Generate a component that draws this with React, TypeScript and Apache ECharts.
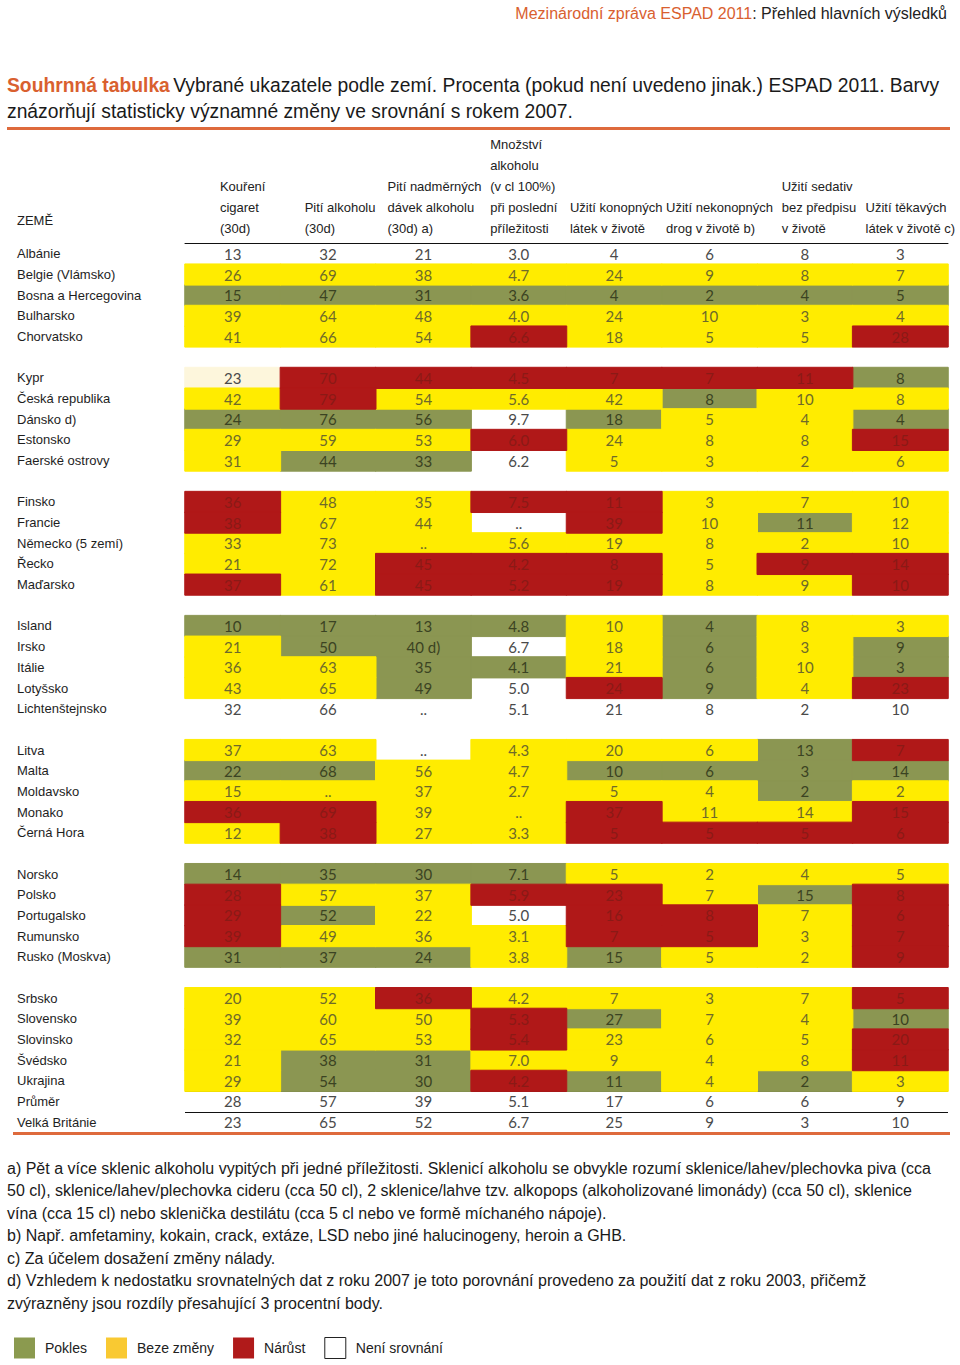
import React, { useEffect, useRef } from 'react';
import * as echarts from 'echarts';

// ---------- DATA ----------
const columnHeaders = [
  'Kouření\ncigaret\n(30d)',
  'Pití alkoholu\n(30d)',
  'Pití nadměrných\ndávek alkoholu\n(30d) a)',
  'Množství\nalkoholu\n(v cl 100%)\npři poslední\npříležitosti',
  'Užití konopných\nlátek v životě',
  'Užití nekonopných\ndrog v životě b)',
  'Užití sedativ\nbez předpisu\nv životě',
  'Užití těkavých\nlátek v životě c)',
];

const countryGroups = [
  ['Albánie', 'Belgie (Vlámsko)', 'Bosna a Hercegovina', 'Bulharsko', 'Chorvatsko'],
  ['Kypr', 'Česká republika', 'Dánsko d)', 'Estonsko', 'Faerské ostrovy'],
  ['Finsko', 'Francie', 'Německo (5 zemí)', 'Řecko', 'Maďarsko'],
  ['Island', 'Irsko', 'Itálie', 'Lotyšsko', 'Lichtenštejnsko'],
  ['Litva', 'Malta', 'Moldavsko', 'Monako', 'Černá Hora'],
  ['Norsko', 'Polsko', 'Portugalsko', 'Rumunsko', 'Rusko (Moskva)'],
  ['Srbsko', 'Slovensko', 'Slovinsko', 'Švédsko', 'Ukrajina', 'Průměr', 'Velká Británie'],
];

// one row per country (same order as countryGroups flattened)
const cellValues: string[][] = [
  ['13', '32', '21', '3.0', '4', '6', '8', '3'],
  ['26', '69', '38', '4.7', '24', '9', '8', '7'],
  ['15', '47', '31', '3.6', '4', '2', '4', '5'],
  ['39', '64', '48', '4.0', '24', '10', '3', '4'],
  ['41', '66', '54', '6.6', '18', '5', '5', '28'],

  ['23', '70', '44', '4.5', '7', '7', '11', '8'],
  ['42', '79', '54', '5.6', '42', '8', '10', '8'],
  ['24', '76', '56', '9.7', '18', '5', '4', '4'],
  ['29', '59', '53', '6.0', '24', '8', '8', '15'],
  ['31', '44', '33', '6.2', '5', '3', '2', '6'],

  ['36', '48', '35', '7.5', '11', '3', '7', '10'],
  ['38', '67', '44', '..', '39', '10', '11', '12'],
  ['33', '73', '..', '5.6', '19', '8', '2', '10'],
  ['21', '72', '45', '4.2', '8', '5', '9', '14'],
  ['37', '61', '45', '5.2', '19', '8', '9', '10'],

  ['10', '17', '13', '4.8', '10', '4', '8', '3'],
  ['21', '50', '40 d)', '6.7', '18', '6', '3', '9'],
  ['36', '63', '35', '4.1', '21', '6', '10', '3'],
  ['43', '65', '49', '5.0', '24', '9', '4', '23'],
  ['32', '66', '..', '5.1', '21', '8', '2', '10'],

  ['37', '63', '..', '4.3', '20', '6', '13', '7'],
  ['22', '68', '56', '4.7', '10', '6', '3', '14'],
  ['15', '..', '37', '2.7', '5', '4', '2', '2'],
  ['36', '69', '39', '..', '37', '11', '14', '15'],
  ['12', '38', '27', '3.3', '5', '5', '5', '6'],

  ['14', '35', '30', '7.1', '5', '2', '4', '5'],
  ['28', '57', '37', '5.9', '23', '7', '15', '8'],
  ['29', '52', '22', '5.0', '16', '8', '7', '6'],
  ['39', '49', '36', '3.1', '7', '5', '3', '7'],
  ['31', '37', '24', '3.8', '15', '5', '2', '9'],

  ['20', '52', '36', '4.2', '7', '3', '7', '5'],
  ['39', '60', '50', '5.3', '27', '7', '4', '10'],
  ['32', '65', '53', '5.4', '23', '6', '5', '20'],
  ['21', '38', '31', '7.0', '9', '4', '8', '11'],
  ['29', '54', '30', '4.2', '11', '4', '2', '3'],
  ['28', '57', '39', '5.1', '17', '6', '6', '9'],
  ['23', '65', '52', '6.7', '25', '9', '3', '10'],
];

// G = pokles, Y = beze změny, R = nárůst, W = není srovnání, C = není srovnání (světlý odstín)
const cellStatus: string[] = [
  'WWWWWWWW',
  'YYYYYYYY',
  'GGGGGGGG',
  'YYYYYYYY',
  'YYYRYYYR',

  'CRRRRRRG',
  'YRYYYGYY',
  'GGGWGYYG',
  'YYYRYYYR',
  'YGGWYYYY',

  'RYYRRYYY',
  'RYYWRYGY',
  'YYYYYYYY',
  'YYRRRYRR',
  'RYRRRYYR',

  'GGGGYGYY',
  'YGGWYGYG',
  'YYGGYGYG',
  'YYGWRGYR',
  'WWWWWWWW',

  'YYWYYYGR',
  'GGYYGGGG',
  'YYYYYYGY',
  'RRYYRYYR',
  'YRYYRRRR',

  'GGGGYYYY',
  'RYYRRYGR',
  'RGYWRRYR',
  'RYYYRRYR',
  'GGGYGYYR',

  'YYRYYYYR',
  'YYYRGYYG',
  'YYYRYYYR',
  'YGGYYYYR',
  'YGGRGYGY',
  'WWWWWWWW',
  'WWWWWWWW',
];

const legendNames = ['Pokles', 'Beze změny', 'Nárůst', 'Není srovnání'];
const statusCodes = ['G', 'Y', 'R', 'W', 'C'];

const footnotes = [
  'a) Pět a více sklenic alkoholu vypitých při jedné příležitosti. Sklenicí alkoholu se obvykle rozumí sklenice/lahev/plechovka piva (cca',
  '50 cl), sklenice/lahev/plechovka cideru (cca 50 cl), 2 sklenice/lahve tzv. alkopops (alkoholizované limonády) (cca 50 cl), sklenice',
  'vína (cca 15 cl) nebo sklenička destilátu (cca 5 cl nebo ve formě míchaného nápoje).',
  'b) Např. amfetaminy, kokain, crack, extáze, LSD nebo jiné halucinogeny, heroin a GHB.',
  'c) Za účelem dosažení změny nálady.',
  'd) Vzhledem k nedostatku srovnatelných dat z roku 2007 je toto porovnání provedeno za použití dat z roku 2003, přičemž',
  'zvýrazněny jsou rozdíly přesahující 3 procentní body.',
];

// ---------- STYLES ----------
const cellFill: Record<string, string> = {
  G: '#8b9652',
  Y: '#ffec00',
  R: '#b01818',
  W: 'rgba(255,255,255,0)',
  C: '#fdf6dc',
};
const cellText: Record<string, string> = {
  G: '#3b4322',
  Y: '#6e6a2a',
  R: '#8a1a16',
  W: '#4a4a4a',
};
const legendFill: Record<string, string> = {
  G: '#8b9a4f',
  Y: '#f9c932',
  R: '#b01a1a',
  W: '#ffffff',
};
// extra left padding of each column header block (shifts it right)
const headerShift = [20, 24, 22, 10, 4, 20, 28, 20];

const SANS = "'Liberation Sans', Arial, sans-serif";
const ORANGE = '#d9602f';

export default function App() {
  const ref = useRef<HTMLDivElement>(null);

  useEffect(() => {
    if (!ref.current) return;
    const chart = echarts.init(ref.current, undefined, { renderer: 'svg' });

    // category rows with blank spacer rows between groups
    const rowCats: string[] = [];
    const rowIndex: number[] = [];
    countryGroups.forEach((g, gi) => {
      if (gi > 0) rowCats.push(' '.repeat(gi));
      g.forEach((n) => {
        rowIndex.push(rowCats.length);
        rowCats.push(n);
      });
    });
    const avgIdx = rowCats.indexOf('Průměr');
    const ukIdx = rowCats.indexOf('Velká Británie');

    const seriesData: Record<string, any[]> = { G: [], Y: [], R: [], W: [] };
    cellValues.forEach((row, r) => {
      row.forEach((txt, c) => {
        const code = cellStatus[r][c];
        const item: any = { value: [c, rowIndex[r], statusCodes.indexOf(code)], text: txt };
        if (code === 'C') {
          item.itemStyle = { borderColor: cellFill.C, borderWidth: 1 };
          seriesData.W.push(item);
        } else {
          seriesData[code].push(item);
        }
      });
    });

    const order = ['W', 'G', 'Y', 'R'];
    const series = order.map((code) => ({
      type: 'heatmap',
      name: legendNames[statusCodes.indexOf(code)],
      data: seriesData[code],
      itemStyle: { borderColor: cellFill[code], borderWidth: code === 'W' ? 0 : 1 },
      label: {
        show: true,
        formatter: (p: any) => p.data.text,
        fontFamily: 'Lato, sans-serif',
        fontSize: 15,
        color: cellText[code],
      },
      emphasis: { disabled: true },
    }));

    const option: any = {
      animation: false,
      backgroundColor: '#ffffff',
      grid: { left: 185, top: 243.5, width: 763, height: 889, containLabel: false },
      visualMap: {
        type: 'piecewise',
        show: false,
        dimension: 2,
        seriesIndex: [0, 1, 2, 3],
        pieces: statusCodes.map((code, i) => ({ value: i, color: cellFill[code] })),
      },
      xAxis: {
        type: 'category',
        position: 'top',
        data: columnHeaders.map((h, i) => ({ value: h, textStyle: { padding: [0, 0, 0, headerShift[i]] } })),
        axisLine: { show: true, lineStyle: { color: '#111', width: 1 } },
        axisTick: { show: false },
        splitLine: { show: false },
        axisLabel: {
          interval: 0,
          margin: 5,
          formatter: (v: string) => v.split('\n').map((l) => `{h|${l}}`).join('\n'),
          rich: {
            h: { fontFamily: SANS, fontSize: 13, color: '#222', lineHeight: 21, align: 'left' },
          },
        },
      },
      yAxis: {
        type: 'category',
        inverse: true,
        data: rowCats,
        axisLine: { show: false },
        axisTick: { show: false },
        axisLabel: {
          interval: 0,
          align: 'left',
          margin: 168,
          fontFamily: SANS,
          fontSize: 13,
          color: '#1e1e1e',
        },
        splitLine: {
          show: true,
          interval: (idx: number) => idx === avgIdx || idx === ukIdx,
          lineStyle: { color: '#111', width: 1 },
        },
      },
      legend: {
        left: 14,
        top: 1337,
        orient: 'horizontal',
        padding: 0,
        itemWidth: 21,
        itemHeight: 21,
        itemGap: 19,
        icon: 'rect',
        selectedMode: false,
        textStyle: { fontFamily: SANS, fontSize: 14, color: '#222', padding: [0, 0, 0, 5] },
        data: ['G', 'Y', 'R', 'W'].map((code) => ({
          name: legendNames[statusCodes.indexOf(code)],
          itemStyle:
            code === 'W'
              ? { color: legendFill[code], borderColor: '#222', borderWidth: 1 }
              : { color: legendFill[code], borderColor: legendFill[code], borderWidth: 0 },
        })),
      },
      graphic: [
        {
          type: 'text',
          x: 947,
          y: 13,
          style: {
            text: '{o|Mezinárodní zpráva ESPAD 2011}{k|: Přehled hlavních výsledků}',
            align: 'right',
            verticalAlign: 'middle',
            rich: {
              o: { fontFamily: SANS, fontSize: 16, fill: ORANGE, color: ORANGE },
              k: { fontFamily: SANS, fontSize: 16, fill: '#222', color: '#222' },
            },
          },
        },
        {
          type: 'text',
          x: 7,
          y: 72,
          style: {
            text:
              '{b|Souhrnná tabulka} {n|Vybrané ukazatele podle zemí. Procenta (pokud není uvedeno jinak.) ESPAD 2011. Barvy}\n{n|znázorňují statisticky významné změny ve srovnání s rokem 2007.}',
            align: 'left',
            verticalAlign: 'top',
            rich: {
              b: { fontFamily: SANS, fontSize: 19.3, fontWeight: 'bold', fill: ORANGE, color: ORANGE, lineHeight: 26 },
              n: { fontFamily: SANS, fontSize: 19.3, fill: '#1a1a1a', color: '#1a1a1a', lineHeight: 26 },
            },
          },
        },
        { type: 'rect', shape: { x: 7, y: 127, width: 943, height: 3 }, style: { fill: '#de6a3c' } },
        {
          type: 'text',
          x: 17,
          y: 220,
          style: { text: 'ZEMĚ', fontFamily: SANS, fontSize: 13, fill: '#1e1e1e', align: 'left', verticalAlign: 'middle' },
        },
        { type: 'rect', z: 10, shape: { x: 13, y: 1132, width: 937, height: 3 }, style: { fill: '#de6a3c' } },
        {
          type: 'text',
          x: 7,
          y: 1157,
          style: {
            text: footnotes.join('\n'),
            fontFamily: SANS,
            fontSize: 16,
            lineHeight: 22.5,
            fill: '#1a1a1a',
            align: 'left',
            verticalAlign: 'top',
          },
        },
      ],
      series,
    };

    chart.setOption(option);
    return () => chart.dispose();
  }, []);

  return (
    <div
      ref={ref}
      style={{ position: 'absolute', left: 0, top: 0, width: 960, height: 1365, background: '#fff' }}
    />
  );
}
